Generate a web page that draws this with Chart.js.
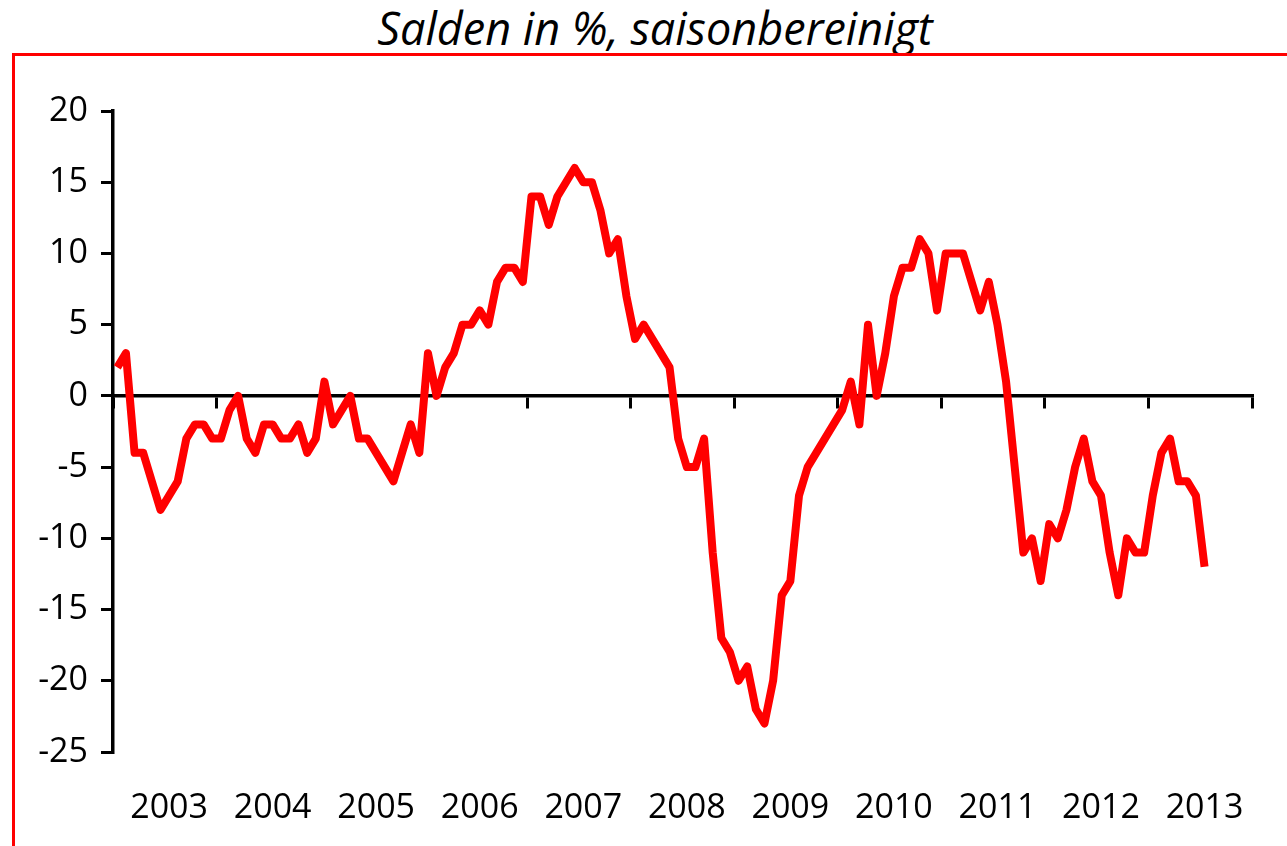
<!DOCTYPE html>
<html>
<head>
<meta charset="utf-8">
<script src="https://cdn.jsdelivr.net/npm/chart.js@4"></script>
<style>
  html, body { margin: 0; padding: 0; background: #fff; overflow: hidden; }
  #wrap { position: relative; width: 1287px; height: 846px; }
  #title {
    position: absolute; left: 0; top: 5px; width: 1310px; text-align: center;
    font-family: "Open Sans", sans-serif; font-style: italic; font-size: 45px; line-height: 45px; color: #000;
  }
  #frame {
    position: absolute; left: 12px; top: 53px; width: 1400px; height: 900px;
    border: 3px solid #ff0000; box-sizing: border-box;
  }
  #chart { position: absolute; left: 0; top: 0; }
</style>
</head>
<body>
<div id="wrap">
  <div id="title">Salden in %, saisonbereinigt</div>
  <div id="frame"></div>
  <canvas id="chart" width="1287" height="846"></canvas>
</div>
<script>
// year labels, one per 12 months
const years = ["2003", "2004", "2005", "2006", "2007", "2008", "2009", "2010", "2011", "2012", "2013"];
// monthly balance, Jan 2003 .. Jul 2013
const saldo = [
  2, 3, -4, -4, -6, -8, -7, -6, -3, -2, -2, -3,
  -3, -1, 0, -3, -4, -2, -2, -3, -3, -2, -4, -3,
  1, -2, -1, 0, -3, -3, -4, -5, -6, -4, -2, -4,
  3, 0, 2, 3, 5, 5, 6, 5, 8, 9, 9, 8,
  14, 14, 12, 14, 15, 16, 15, 15, 13, 10, 11, 7,
  4, 5, 4, 3, 2, -3, -5, -5, -3, -11, -17, -18,
  -20, -19, -22, -23, -20, -14, -13, -7, -5, -4, -3, -2,
  -1, 1, -2, 5, 0, 3, 7, 9, 9, 11, 10, 6,
  10, 10, 10, 8, 6, 8, 5, 1, -5, -11, -10, -13,
  -9, -10, -8, -5, -3, -6, -7, -11, -14, -10, -11, -11,
  -7, -4, -3, -6, -6, -7, -12
];
const yTicks = [-25, -20, -15, -10, -5, 0, 5, 10, 15, 20];

const months = years.length * 12;
const points = saldo.map((v, i) => ({ x: i + 0.5, y: v }));
const tickFont = { family: "Open Sans", size: 34 };

new Chart(document.getElementById("chart"), {
  type: "line",
  data: {
    datasets: [
      {
        data: points,
        borderColor: "#ff0000",
        borderWidth: 8,
        borderJoinStyle: "round",
        pointRadius: 0,
        tension: 0,
        fill: false,
      },
    ],
  },
  options: {
    responsive: false,
    animation: false,
    layout: { padding: { left: 0, right: 35, top: 111, bottom: 0 } },
    plugins: { legend: { display: false }, tooltip: { enabled: false } },
    scales: {
      x: {
        type: "linear",
        min: 0,
        max: months,
        position: { y: 0 },
        ticks: { stepSize: 12, display: false },
        grid: { drawOnChartArea: false, drawTicks: true, tickLength: 11, color: "#000", lineWidth: 3 },
        border: { display: true, color: "#000", width: 3.5 },
      },
      x2: {
        type: "linear",
        axis: "x",
        min: 0,
        max: months,
        position: "bottom",
        afterBuildTicks: (s) => {
          s.ticks = years.map((y, k) => ({ value: 6.5 + 12 * k }));
        },
        afterFit: (s) => { s.height = 94; },
        ticks: {
          autoSkip: false,
          maxRotation: 0,
          padding: 36,
          color: "#000",
          font: tickFont,
          callback: (v, i) => years[i],
        },
        grid: { display: false, drawTicks: false },
        border: { display: false },
      },
      y: {
        type: "linear",
        min: -25,
        max: 20,
        afterBuildTicks: (s) => {
          s.ticks = yTicks.map((v) => ({ value: v }));
        },
        afterFit: (s) => { s.width = 113; },
        ticks: { padding: 13, color: "#000", font: tickFont },
        grid: { drawOnChartArea: false, drawTicks: true, tickLength: 12, color: "#000", lineWidth: 3 },
        border: { display: true, color: "#000", width: 3.5 },
      },
    },
  },
});
</script>
</body>
</html>
